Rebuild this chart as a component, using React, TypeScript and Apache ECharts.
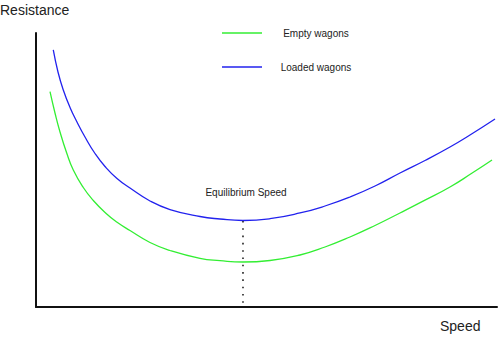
import React, { useEffect, useRef } from "react";
import * as echarts from "echarts";

const loadedSpeed = [3.75, 4.77, 5.92, 7.38, 8.89, 10.63, 12.8, 14.97, 17.57, 20.39, 24.73, 29.07, 35.57, 39.91, 44.9, 50.76, 57.27, 62.69, 68.11, 73.54, 78.96, 84.38, 89.8, 94.14, 99.57];
const loadedResistance = [93.8, 85.77, 79.2, 72.81, 67.52, 62.04, 56.02, 51.28, 46.9, 43.43, 38.69, 35.58, 33.03, 32.12, 31.57, 32.23, 34.31, 36.86, 40.15, 44.16, 48.91, 53.47, 58.39, 62.77, 68.61];
const emptySpeed = [3.04, 4.12, 5.21, 6.66, 8.09, 10.26, 12.43, 15.34, 17.51, 20.39, 24.73, 29.07, 35.57, 39.91, 44.9, 50.76, 57.27, 62.69, 68.11, 73.54, 78.96, 84.38, 89.8, 94.36, 98.92];
const emptyResistance = [78.58, 70.8, 63.87, 56.2, 50.0, 43.61, 38.87, 33.94, 31.02, 27.92, 23.54, 20.62, 17.77, 16.93, 16.42, 16.97, 18.98, 21.9, 25.55, 29.74, 34.31, 38.98, 43.8, 48.61, 53.65];
const equilibriumSpeed = 44.9;
const equilibriumRange = [31.4, 1.3];
const seriesNames = ["Empty wagons", "Loaded wagons"];

export default function App() {
  const ref = useRef<HTMLDivElement>(null);
  useEffect(() => {
    const chart = echarts.init(ref.current!, null, { renderer: "svg" });
    const font = "Liberation Sans, Arial, sans-serif";
    chart.setOption({
      animation: false,
      grid: { left: 36, right: 3, top: 33, bottom: 30 },
      xAxis: {
        type: "value",
        min: 0,
        max: 100,
        axisLine: { show: true, lineStyle: { color: "#111", width: 2 } },
        axisTick: { show: false },
        axisLabel: { show: false },
        splitLine: { show: false },
      },
      yAxis: {
        type: "value",
        min: 0,
        max: 100,
        axisLine: { show: true, lineStyle: { color: "#111", width: 2 } },
        axisTick: { show: false },
        axisLabel: { show: false },
        splitLine: { show: false },
      },
      series: [
        {
          name: seriesNames[0],
          type: "line",
          smooth: 0.5,
          showSymbol: false,
          data: emptySpeed.map((s, i) => [s, emptyResistance[i]]),
          lineStyle: { color: "#33ee33", width: 1.3 },
        },
        {
          name: seriesNames[1],
          type: "line",
          smooth: 0.5,
          showSymbol: false,
          data: loadedSpeed.map((s, i) => [s, loadedResistance[i]]),
          lineStyle: { color: "#2222ee", width: 1.3 },
        },
        {
          name: "Equilibrium",
          type: "line",
          showSymbol: false,
          data: equilibriumRange.map((r) => [equilibriumSpeed, r]),
          lineStyle: { color: "#222", width: 1.6, type: [1.6, 5.7] },
        },
      ],
      graphic: [
        { type: "text", left: 0, top: 3, style: { text: "Resistance", font: `14px ${font}`, fill: "#222" } },
        { type: "text", left: 440, top: 319, style: { text: "Speed", font: `14px ${font}`, fill: "#222" } },
        { type: "line", shape: { x1: 222, y1: 33, x2: 262, y2: 33 }, style: { stroke: "#33ee33", lineWidth: 1.3 } },
        { type: "line", shape: { x1: 222, y1: 67, x2: 262, y2: 67 }, style: { stroke: "#2222ee", lineWidth: 1.3 } },
        { type: "text", x: 316, y: 33, style: { text: seriesNames[0], font: `10px ${font}`, fill: "#222", align: "center", verticalAlign: "middle" } },
        { type: "text", x: 316, y: 67, style: { text: seriesNames[1], font: `10px ${font}`, fill: "#222", align: "center", verticalAlign: "middle" } },
        { type: "text", x: 246, y: 192, style: { text: "Equilibrium Speed", font: `10px ${font}`, fill: "#222", align: "center", verticalAlign: "middle" } },
      ],
    });
    return () => chart.dispose();
  }, []);
  return <div ref={ref} style={{ position: "absolute", left: 0, top: 0, width: 500, height: 337 }} />;
}
